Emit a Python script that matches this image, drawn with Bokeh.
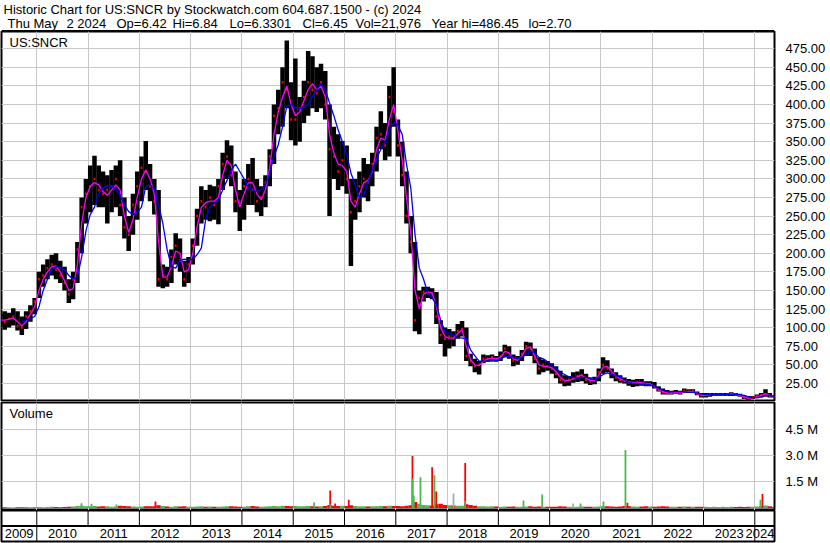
from bokeh.plotting import figure
from bokeh.models import (Range1d, LinearAxis, FixedTicker, PrintfTickFormatter,
                          Span, Label, ColumnDataSource, Grid)
from bokeh.layouts import column
from bokeh.embed import file_html
from bokeh.resources import INLINE
from bokeh.core.properties import value

# ---------------- data (monthly, starting Apr 2009) ----------------
START_YEAR, START_MONTH = 2009, 4

price_high = [
    118, 122, 120, 126, 122, 115, 122, 130, 140,
    175, 185, 192, 198, 200, 190, 182, 165, 175, 215, 275, 300,
    318, 331, 318, 310, 305, 312, 318, 325, 275, 250, 280, 310,
    330, 351, 320, 300, 285, 185, 182, 205, 227, 220, 190, 195,
    220, 260, 290, 285, 292, 290, 300, 335, 352, 345, 310, 285,
    300, 320, 328, 300, 290, 305, 340, 400, 420, 450, 486, 430,
    462, 410, 432, 472, 465, 450, 455, 445, 400, 370, 360, 351,
    345, 300, 300, 310, 328, 320, 335, 370, 391, 375, 425, 450,
    380, 350, 310, 250, 215, 150, 155, 155, 153, 148, 110, 100,
    98, 95, 105, 109, 100, 65, 58, 55, 64, 63, 64, 62,
    68, 77, 75, 64, 62, 70, 81, 80, 72, 60, 57, 55,
    52, 48, 42, 36, 35, 40, 41, 44, 38, 33, 34, 45,
    60, 56, 45, 40, 36, 33, 31, 30, 31, 31, 28, 28,
    27, 21, 18, 16, 15, 16, 15, 18, 17, 17, 14, 12,
    12, 12, 12, 12, 12, 12, 13, 12, 11, 9, 8, 8,
    10, 12, 17, 12, 9,
]
price_low = [
    100, 97, 100, 103, 96, 90, 98, 108, 118,
    140, 155, 165, 170, 165, 160, 150, 133, 138, 160, 200, 240,
    255, 265, 262, 262, 240, 255, 262, 250, 220, 203, 225, 245,
    270, 285, 270, 252, 155, 153, 155, 160, 185, 175, 155, 160,
    185, 210, 240, 245, 243, 245, 239, 285, 300, 290, 255, 230,
    245, 265, 265, 255, 250, 262, 290, 320, 360, 370, 395, 352,
    345, 350, 375, 385, 395, 390, 395, 380, 250, 300, 285, 290,
    280, 183, 245, 255, 275, 270, 290, 310, 340, 325, 330, 370,
    330, 290, 240, 200, 95, 91, 135, 140, 138, 105, 78, 61,
    72, 75, 85, 88, 55, 48, 40, 37, 52, 54, 55, 54,
    55, 60, 58, 48, 50, 55, 62, 62, 52, 37, 40, 42,
    38, 32, 25, 21, 22, 26, 27, 28, 25, 23, 24, 28,
    38, 40, 32, 28, 26, 25, 22, 20, 21, 22, 21, 21,
    18, 14, 10, 10, 10, 11, 10, 12, 12, 12, 9, 6,
    6, 7, 8, 8, 8, 8, 8, 8, 7, 4, 2.7, 4,
    5, 6, 7, 6, 6,
]
price_close = [
    110, 108, 112, 115, 102, 100, 115, 122, 135,
    165, 170, 180, 185, 178, 170, 160, 145, 165, 205, 262, 280,
    290, 300, 285, 280, 285, 290, 300, 265, 235, 225, 265, 290,
    315, 310, 290, 270, 165, 170, 165, 195, 210, 190, 165, 185,
    210, 250, 270, 262, 275, 265, 290, 320, 330, 305, 270, 265,
    290, 300, 285, 270, 275, 295, 330, 385, 395, 430, 420, 380,
    380, 395, 410, 430, 420, 415, 430, 400, 340, 330, 310, 325,
    300, 255, 270, 290, 300, 295, 320, 355, 360, 345, 410, 390,
    345, 305, 250, 215, 110, 140, 148, 148, 145, 115, 90, 85,
    88, 85, 95, 98, 62, 55, 48, 50, 58, 58, 60, 58,
    62, 72, 62, 55, 58, 65, 75, 72, 58, 45, 50, 48,
    45, 38, 30, 28, 30, 32, 35, 36, 30, 28, 29, 40,
    50, 45, 38, 33, 30, 28, 26, 26, 27, 26, 24, 24,
    20, 16, 13, 12, 12, 13, 12, 15, 14, 14, 11, 9,
    9, 10, 10, 10, 10, 10, 11, 10, 9, 6, 5, 6,
    8, 9, 10, 8, 6.45,
]
ma_short = [
    110, 110, 111, 113, 108, 102, 108, 118, 128,
    150, 165, 175, 182, 183, 175, 163, 150, 152, 185, 240, 275,
    290, 295, 292, 283, 278, 285, 292, 285, 250, 228, 245, 275,
    300, 312, 300, 280, 215, 168, 168, 182, 203, 200, 175, 178,
    200, 235, 262, 268, 270, 270, 275, 305, 325, 318, 285, 262,
    280, 295, 295, 280, 272, 285, 315, 360, 390, 410, 425, 400,
    385, 390, 405, 420, 428, 420, 425, 410, 360, 335, 320, 318,
    310, 270, 262, 280, 295, 298, 310, 340, 355, 352, 380, 400,
    365, 325, 275, 228, 150, 125, 145, 148, 147, 128, 100, 88,
    86, 86, 92, 97, 75, 57, 50, 49, 55, 58, 59, 58,
    60, 68, 66, 58, 56, 62, 72, 74, 62, 50, 48, 48,
    46, 41, 33, 29, 29, 31, 34, 36, 32, 29, 29, 36,
    47, 48, 41, 35, 31, 29, 27, 26, 26, 26, 25, 24,
    21, 17, 14, 12, 12, 13, 12, 14, 14, 14, 12, 9,
    9, 10, 10, 10, 10, 10, 11, 10, 9, 7, 5, 6,
    7, 9, 11, 9, 7,
]
NAN = float("nan")
ma_long = [
    NAN, NAN, NAN, NAN, NAN, 108, 110, 112, 115,
    128, 150, 165, 177, 182, 181, 178, 170, 165, 168, 195, 230,
    252, 262, 280, 288, 291, 290, 286, 278, 265, 256, 252, 255,
    262, 290, 292, 286, 265, 240, 205, 182, 180, 190, 192, 191,
    192, 198, 207, 245, 262, 268, 272, 285, 298, 312, 320, 310,
    300, 288, 285, 283, 286, 292, 308, 330, 346, 370, 398, 400,
    396, 395, 396, 400, 411, 420, 428, 420, 402, 385, 366, 350,
    333, 308, 292, 275, 278, 296, 312, 327, 340, 350, 365, 376,
    372, 360, 320, 288, 225, 180, 165, 146, 140, 131, 110, 95,
    92, 90, 87, 86, 85, 70, 62, 55, 55, 55, 55, 56,
    58, 61, 62, 60, 58, 60, 64, 68, 66, 60, 58, 54,
    50, 45, 40, 37, 34, 33, 32, 33, 33, 32, 30, 33,
    37, 39, 37, 35, 34, 30, 26, 25, 25, 24, 24, 23,
    21, 18, 16, 14, 14, 14, 14, 14, 13, 13, 12, 11,
    10, 10, 10, 10, 10, 10, 10, 10, 10, 9, 7, 6,
    6, 7, 9, 9, 7,
]
# average daily volume per month, millions
vol_base = [
    0.06, 0.05, 0.05, 0.04, 0.05, 0.05, 0.06, 0.05, 0.06,
    0.06, 0.05, 0.06, 0.07, 0.06, 0.05, 0.06, 0.07, 0.09, 0.12, 0.14, 0.10,
    0.11, 0.12, 0.09, 0.10, 0.11, 0.08, 0.09, 0.13, 0.12, 0.10, 0.09, 0.08,
    0.09, 0.10, 0.11, 0.10, 0.16, 0.12, 0.09, 0.08, 0.10, 0.09, 0.11, 0.08,
    0.07, 0.09, 0.10, 0.08, 0.09, 0.07, 0.08, 0.09, 0.11, 0.10, 0.09, 0.08,
    0.08, 0.10, 0.12, 0.09, 0.08, 0.09, 0.10, 0.12, 0.11, 0.13, 0.12, 0.11,
    0.12, 0.10, 0.11, 0.12, 0.10, 0.09, 0.11, 0.12, 0.18, 0.14, 0.12, 0.13,
    0.12, 0.16, 0.12, 0.10, 0.11, 0.09, 0.10, 0.11, 0.12, 0.11, 0.14, 0.12,
    0.12, 0.11, 0.14, 0.16, 0.35, 0.25, 0.18, 0.16, 0.14, 0.22, 0.25, 0.18,
    0.16, 0.15, 0.14, 0.13, 0.22, 0.17, 0.13, 0.10, 0.10, 0.09, 0.10, 0.09,
    0.08, 0.09, 0.08, 0.09, 0.07, 0.08, 0.09, 0.10, 0.08, 0.09, 0.08, 0.07,
    0.07, 0.08, 0.10, 0.09, 0.08, 0.07, 0.08, 0.09, 0.08, 0.07, 0.08, 0.09,
    0.10, 0.11, 0.09, 0.08, 0.09, 0.12, 0.10, 0.09, 0.08, 0.09, 0.10, 0.09,
    0.08, 0.09, 0.10, 0.09, 0.08, 0.07, 0.08, 0.09, 0.08, 0.07, 0.08, 0.07,
    0.07, 0.06, 0.07, 0.06, 0.07, 0.06, 0.07, 0.06, 0.07, 0.06, 0.08, 0.07,
    0.09, 0.12, 0.15, 0.10, 0.06,
]
# single-day volume spikes (date as fractional year, millions)
red_spike_dates = [2012.314, 2015.721, 2015.818, 2016.083, 2017.325, 2017.709,
                   2017.787, 2018.353, 2021.517, 2024.149]
red_spike_vols = [0.37, 1.01, 0.26, 0.47, 2.97, 2.34, 0.95, 2.57, 0.30, 0.80]
gray_spike_dates = [2018.125, 2020.457]
gray_spike_vols = [0.84, 0.26]
green_spike_dates = [2010.872, 2011.067, 2011.554, 2015.409, 2015.721, 2017.325,
                     2017.351, 2017.481, 2017.754, 2018.353, 2019.490, 2019.854,
                     2020.601, 2021.050, 2021.478, 2024.110]
green_spike_vols = [0.28, 0.25, 0.20, 0.32, 0.20, 1.68, 0.72, 1.76, 1.88, 0.41,
                    0.43, 0.78, 0.26, 0.37, 3.32, 0.47]

year_bounds = list(range(2010, 2025))
year_labels = [str(y) for y in range(2009, 2025)]
price_ticks = [25, 50, 75, 100, 125, 150, 175, 200, 225, 250, 275, 300, 325,
               350, 375, 400, 425, 450, 475]
vol_ticks = [1.5, 3.0, 4.5]

header_line1 = "Historic Chart for US:SNCR by Stockwatch.com 604.687.1500 - (c) 2024"
header_parts = ["Thu May", "2 2024", "Op=6.42", "Hi=6.84", "Lo=6.3301", "Cl=6.45",
                "Vol=21,976", "Year hi=486.45", "lo=2.70"]

# ---------------- layout constants ----------------
X0, X1 = 2009.312, 2024.384
W = 830
RB = 56          # right border (axis area)
LB = 1
FONT = "Liberation Sans"
GRID = "#c8c8c8"
GREEN = "#4cb84c"

dates = [START_YEAR + (START_MONTH - 1 + i + 0.5) / 12 for i in range(len(price_high))]
vol_colors = ["#ff0000"] + [GREEN if price_close[i] >= price_close[i - 1] else "#ff0000"
                            for i in range(1, len(price_close))]

src = ColumnDataSource(dict(date=dates, hi=price_high, lo=price_low, cl=price_close,
                            ms=ma_short, ml=ma_long, vol=vol_base, vc=vol_colors))


def base_fig(height, yr, top=0, bottom=0, left=LB, right=RB):
    return figure(width=W, height=height, x_range=Range1d(X0, X1), y_range=yr,
                  x_axis_type=None, y_axis_type=None, output_backend="svg",
                  toolbar_location=None, min_border_left=left, min_border_right=right,
                  min_border_top=top, min_border_bottom=bottom,
                  background_fill_color="white", border_fill_color="white",
                  outline_line_color="black", outline_line_width=2)


def right_axis(f, ticks, fmt):
    ax = LinearAxis(ticker=FixedTicker(ticks=ticks), formatter=PrintfTickFormatter(format=fmt),
                    axis_line_color=None, major_tick_line_color=None,
                    minor_tick_line_color=None, major_label_standoff=5,
                    major_label_text_font=FONT, major_label_text_font_size="13px",
                    major_label_text_color="#000000")
    f.add_layout(ax, "right")


def add_grids(f, yticks):
    f.add_layout(Grid(dimension=0, ticker=FixedTicker(ticks=year_bounds),
                      grid_line_color=GRID, grid_line_width=1))
    if yticks:
        f.add_layout(Grid(dimension=1, ticker=FixedTicker(ticks=yticks),
                          grid_line_color=GRID, grid_line_width=1))


# ---------------- header ----------------
H_HEAD = 31
head = figure(width=W, height=H_HEAD, x_range=Range1d(0, W), y_range=Range1d(H_HEAD, 0),
              x_axis_type=None, y_axis_type=None, output_backend="svg",
              toolbar_location=None, min_border=0, outline_line_color=None,
              background_fill_color="white", border_fill_color="white")
head.add_layout(Label(x=2, x_units="screen", y=9, text=header_line1, text_baseline="middle",
                      text_font=FONT, text_font_size="13px", text_color="black"))
part_x = [6, 65, 115, 171, 228, 301, 354, 430, 527]
for px, t in zip(part_x, header_parts):
    head.add_layout(Label(x=px, x_units="screen", y=22.5, text=t, text_baseline="middle",
                          text_font=FONT, text_font_size="13px", text_color="black"))
head.add_layout(Span(location=H_HEAD - 0.5, dimension="width", line_color="black",
                     line_width=2))

# ---------------- price panel ----------------
H_PRICE = 370
PY0, PY1 = 2.0, 498.2
price = base_fig(H_PRICE, Range1d(PY0, PY1), top=0, bottom=1)
add_grids(price, price_ticks)
right_axis(price, price_ticks, "%.2f")
price.vbar(x="date", bottom="lo", top="hi", width=0.088, source=src,
           fill_color="black", line_color=None)
price.rect(x="date", y="cl", width=0.035, height=2.5, height_units="screen", source=src,
           fill_color="#ff0000", line_color=None)
price.line(x="date", y="ms", source=src, line_color="#ff00ff", line_width=1.3)
price.line(x="date", y="ml", source=src, line_color="#0000ff", line_width=1.3)
frame_w = W - LB - RB
ppy = frame_w / (X1 - X0)
ppu = (H_PRICE - 1) / (PY1 - PY0)
price.add_layout(Label(x=X0 + 8 / ppy, y=PY1 - 11 / ppu, text="US:SNCR",
                       text_baseline="middle", text_font=FONT, text_font_size="13px",
                       text_color="black"))

# ---------------- volume panel ----------------
H_VOL = 109
VY0, VY1 = -0.138, 6.035
vol = base_fig(H_VOL, Range1d(VY0, VY1), top=1, bottom=0)
add_grids(vol, vol_ticks)
right_axis(vol, vol_ticks, "%.1f M")
vol.vbar(x="date", top="vol", bottom=0, width=0.086, source=src,
         fill_color="vc", line_color=None)
vol.vbar(x=red_spike_dates, top=red_spike_vols, bottom=0, width=0.035,
         fill_color="#ff0000", line_color=None)
vol.vbar(x=gray_spike_dates, top=gray_spike_vols, bottom=0, width=0.035,
         fill_color="#aaaaaa", line_color=None)
vol.vbar(x=green_spike_dates, top=green_spike_vols, bottom=0, width=0.035,
         fill_color=GREEN, line_color=None)
vpu = (H_VOL - 1) / (VY1 - VY0)
vol.add_layout(Label(x=X0 + 8 / ppy, y=VY1 - 11 / vpu, text="Volume",
                     text_baseline="middle", text_font=FONT, text_font_size="13px",
                     text_color="black"))

# ---------------- year strip ----------------
H_YEAR = 33
years = base_fig(H_YEAR, Range1d(0, 2), top=0, bottom=2)
years.segment(x0=year_bounds, y0=[1] * len(year_bounds), x1=year_bounds,
              y1=[2] * len(year_bounds), line_color="black", line_width=1)
edge = [year_bounds[0], year_bounds[-1]]
years.segment(x0=edge, y0=[0, 0], x1=edge, y1=[1, 1], line_color="black", line_width=1)
years.add_layout(Span(location=1, dimension="width", line_color="black", line_width=2))
bounds = [X0] + year_bounds + [X1]
label_x = [(a + b) / 2 for a, b in zip(bounds[:-1], bounds[1:])]
label_x[-1] = X1
label_align = ["center"] * (len(label_x) - 1) + ["right"]
ysrc = ColumnDataSource(dict(x=label_x, y=[0.5] * len(label_x), t=year_labels,
                             a=label_align))
years.text(x="x", y="y", text="t", text_align="a", source=ysrc,
           text_baseline="middle", text_font=value(FONT), text_font_size="13px",
           text_color="black")

layout = column(head, price, vol, years, spacing=0)
open("out.html", "w").write(file_html(layout, INLINE))
